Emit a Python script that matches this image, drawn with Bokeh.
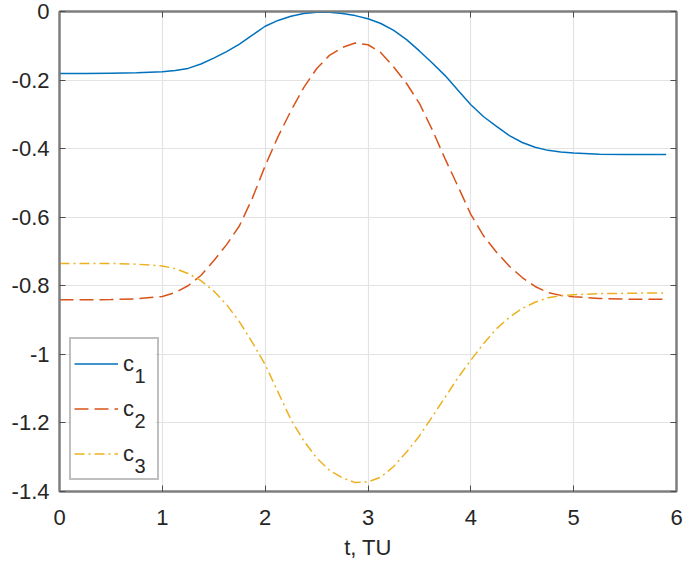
from bokeh.plotting import figure
from bokeh.models import (Range1d, FixedTicker, LinearAxis, Legend, LegendItem,
                          CustomJSTickFormatter, BoxAnnotation)
from bokeh.core.properties import value
from bokeh.embed import file_html
from bokeh.resources import INLINE

# ---- data ----
t = [0, 0.25, 0.5, 0.75,
     1.0, 1.125, 1.25, 1.375, 1.5, 1.625, 1.75, 1.875,
     2.0, 2.125, 2.25, 2.375, 2.5, 2.625, 2.75, 2.875,
     3.0, 3.125, 3.25, 3.375, 3.5, 3.625, 3.75, 3.875,
     4.0, 4.125, 4.25, 4.375, 4.5, 4.625, 4.75, 4.875,
     5.0, 5.25, 5.5, 5.75, 5.9]
c1 = [-0.181, -0.181, -0.180, -0.179,
      -0.176, -0.172, -0.166, -0.153, -0.136, -0.117, -0.095, -0.069,
      -0.043, -0.026, -0.014, -0.006, -0.002, -0.002, -0.006, -0.012,
      -0.021, -0.035, -0.055, -0.082, -0.115, -0.150, -0.187, -0.230,
      -0.272, -0.307, -0.335, -0.362, -0.382, -0.396, -0.405, -0.410,
      -0.413, -0.416, -0.417, -0.417, -0.417]
c2 = [-0.841, -0.841, -0.840, -0.838,
      -0.831, -0.820, -0.800, -0.770, -0.727, -0.680, -0.625, -0.545,
      -0.450, -0.365, -0.290, -0.222, -0.167, -0.128, -0.105, -0.092,
      -0.097, -0.120, -0.162, -0.210, -0.268, -0.345, -0.430, -0.510,
      -0.592, -0.655, -0.702, -0.743, -0.776, -0.802, -0.820, -0.828,
      -0.832, -0.837, -0.839, -0.839, -0.839]
c3 = [-0.735, -0.735, -0.735, -0.737,
      -0.742, -0.750, -0.764, -0.785, -0.815, -0.855, -0.905, -0.965,
      -1.030, -1.110, -1.190, -1.252, -1.302, -1.338, -1.360, -1.374,
      -1.372, -1.358, -1.327, -1.285, -1.238, -1.182, -1.125, -1.068,
      -1.017, -0.968, -0.925, -0.892, -0.866, -0.848, -0.835, -0.829,
      -0.826, -0.823, -0.822, -0.821, -0.821]
series_names = ["c", "c", "c"]
series_subs = ["1", "2", "3"]

x_ticks = [0, 1, 2, 3, 4, 5, 6]
x_tick_labels = ["0", "1", "2", "3", "4", "5", "6"]
y_ticks = [-1.4, -1.2, -1.0, -0.8, -0.6, -0.4, -0.2, 0.0]
y_tick_labels = ["-1.4", "-1.2", "-1", "-0.8", "-0.6", "-0.4", "-0.2", "0"]
x_label = "t, TU"

# ---- styles / layout ----
FONT = "Liberation Sans"
TXT = "#262626"
AX = "#7f7f7f"
TICK = "#4d4d4d"
colors = ["#0072BD", "#D95319", "#EDB120"]

W, H = 685, 565
FL, FR, FT, FH = 59, 9, 11, 480          # frame left / right / top / height
FW = W - FL - FR
X0, X1, Y0, Y1 = 0, 6, -1.4, 0

p = figure(width=W, height=H, output_backend="svg", toolbar_location=None,
           x_range=Range1d(X0, X1), y_range=Range1d(Y0, Y1),
           min_border_left=FL, min_border_right=FR, min_border_top=FT,
           min_border_bottom=H - FT - FH, background_fill_color="white",
           border_fill_color="white")
p.outline_line_color = AX
p.outline_line_width = 2

for ax, ticks, labs in ((p.xaxis[0], x_ticks, x_tick_labels),
                        (p.yaxis[0], y_ticks, y_tick_labels)):
    ax.ticker = FixedTicker(ticks=ticks)
    ax.major_label_overrides = dict(zip(ticks, labs))
    ax.axis_line_color = AX
    ax.axis_line_width = 2
    ax.major_tick_in = 6
    ax.major_tick_out = 0
    ax.major_tick_line_color = TICK
    ax.minor_tick_line_color = None
    ax.major_label_text_font = FONT
    ax.major_label_text_font_size = "22px"
    ax.major_label_text_color = TXT
p.xaxis.major_label_standoff = 18
p.yaxis.major_label_standoff = 10

p.xaxis.axis_label = x_label
p.xaxis.axis_label_text_font = FONT
p.xaxis.axis_label_text_font_size = "22px"
p.xaxis.axis_label_text_font_style = "normal"
p.xaxis.axis_label_text_color = TXT
p.xaxis.axis_label_standoff = 7

for loc, ticks in (("above", x_ticks), ("right", y_ticks)):
    ax = LinearAxis(ticker=FixedTicker(ticks=ticks),
                    formatter=CustomJSTickFormatter(code="return ''"))
    ax.axis_line_color = AX
    ax.axis_line_width = 2
    ax.major_tick_in = 6
    ax.major_tick_out = 0
    ax.major_tick_line_color = TICK
    ax.minor_tick_line_color = None
    ax.major_label_text_font_size = "0px"
    ax.major_label_standoff = 0
    p.add_layout(ax, loc)

p.xgrid.grid_line_color = "#e3e3e3"
p.ygrid.grid_line_color = "#e3e3e3"
p.xgrid.grid_line_width = 1.2
p.ygrid.grid_line_width = 1.2

# white panel behind the legend (hides grid lines there)
LEG_X, LEG_Y, LEG_W, LEG_H = 10, 11, 86, 139
p.add_layout(BoxAnnotation(left=LEG_X, right=LEG_X + LEG_W,
                           bottom=LEG_Y, top=LEG_Y + LEG_H,
                           left_units="screen", right_units="screen",
                           bottom_units="screen", top_units="screen",
                           fill_color="white", fill_alpha=1, line_color=None,
                           level="underlay"))

r1 = p.line(t, c1, line_color=colors[0], line_width=1.5)
r2 = p.line(t, c2, line_color=colors[1], line_width=1.5, line_dash="14 6")
r3 = p.line(t, c3, line_color=colors[2], line_width=1.5, line_dash="10 4 2 4")

legend = Legend(items=[LegendItem(label=series_names[i], renderers=[r])
                       for i, r in enumerate([r1, r2, r3])],
                location=(LEG_X, LEG_Y), orientation="vertical")
legend.glyph_width = 44
legend.glyph_height = 43
legend.label_height = 43
legend.label_width = 31
legend.label_standoff = 5
legend.spacing = 2
legend.padding = 3
legend.margin = 0
legend.border_line_color = AX
legend.border_line_width = 2
legend.background_fill_alpha = 0
legend.label_text_font = FONT
legend.label_text_font_size = "22px"
legend.label_text_color = TXT
p.add_layout(legend, "center")

# subscripts of the legend entries
sub_px_x = 75
sub_px_y = [116, 71, 26]     # pixels above the frame bottom
sub_x = [X0 + sub_px_x / FW * (X1 - X0)] * 3
sub_y = [Y0 + py / FH * (Y1 - Y0) for py in sub_px_y]
rs = p.text(sub_x, sub_y, text=series_subs, text_font=value(FONT),
            text_font_size="20px", text_color=TXT,
            text_baseline="alphabetic", text_align="left")
rs.level = "overlay"

open("out.html", "w").write(file_html(p, INLINE))
